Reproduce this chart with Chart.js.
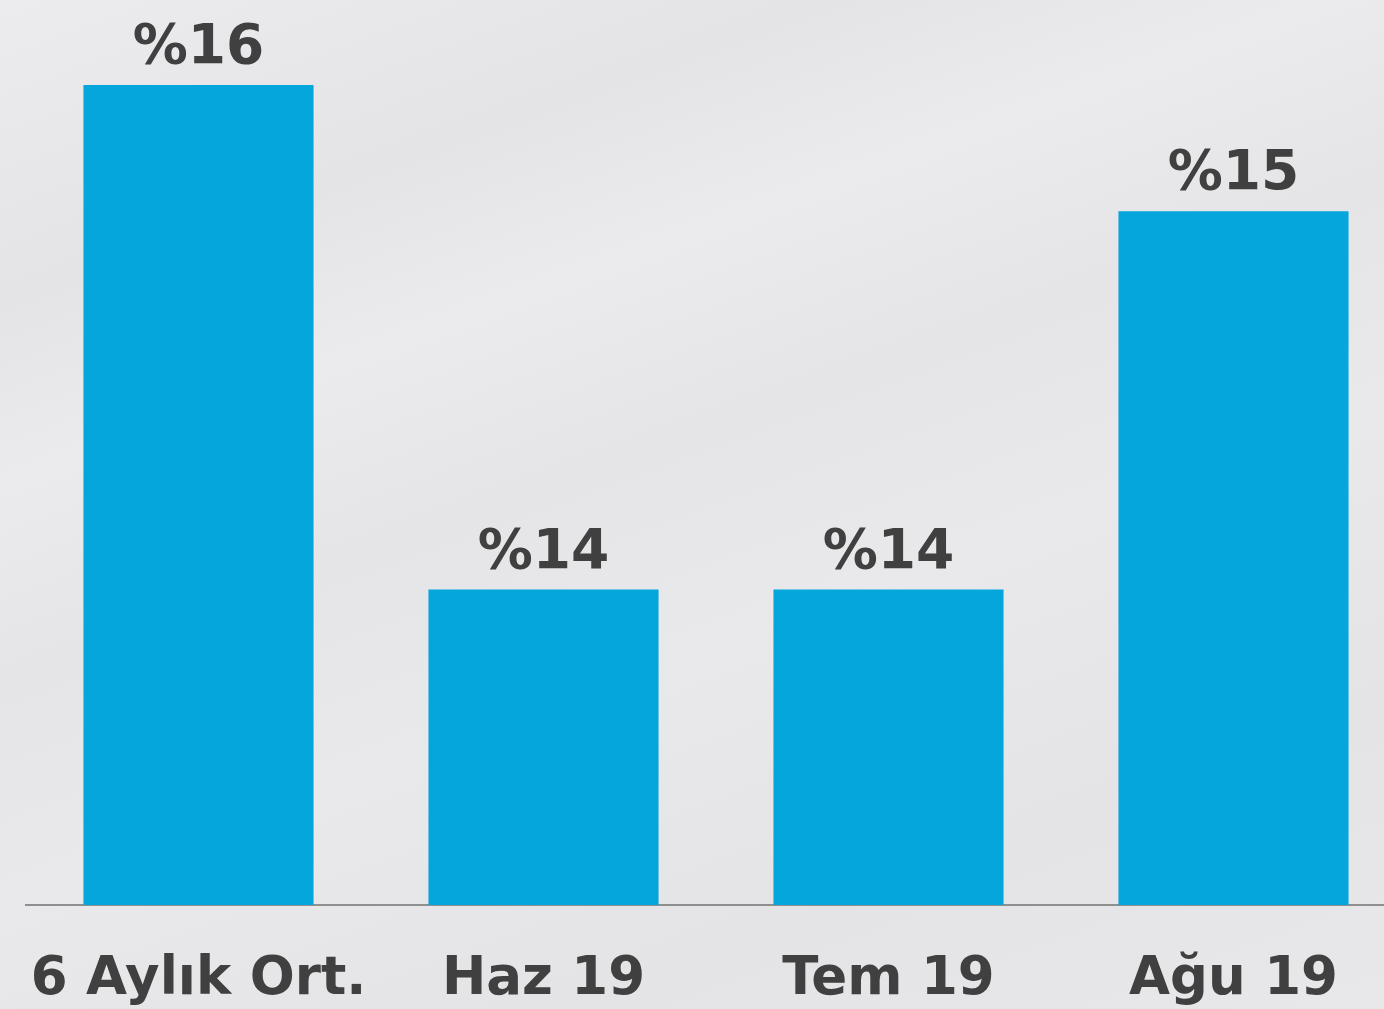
<!DOCTYPE html>
<html lang="tr">
<head>
<meta charset="utf-8">
<title>Oran</title>
<script src="https://cdn.jsdelivr.net/npm/chart.js@4"></script>
<style>
    html, body { margin: 0; padding: 0; overflow: hidden; }
    body {
        width: 1384px; height: 1009px;
        background: linear-gradient(160deg, #ececee 0%, #e4e4e7 20%, #ebebed 32%, #e5e5e8 45%, #e9e9eb 60%, #e4e4e7 80%, #e8e8ea 100%);
    }
    #wrap { position: absolute; left: 0; top: 0; width: 1410px; height: 1009px; }
</style>
</head>
<body>
<div id="wrap"><canvas id="chart"></canvas></div>
<script>
// --- ДАННЫЕ ---
const categories = ['6 Aylık Ort.', 'Haz 19', 'Tem 19', 'Ağu 19'];
const values = [15.6, 13.6, 13.6, 15.1];
const axisMin = 12.35;
const axisMax = 15.6;

const FONT = '"DejaVu Sans", Verdana, sans-serif';
const TEXT = '#404040';

// подписи над столбцами
const valueLabels = {
    id: 'valueLabels',
    afterDatasetsDraw(chart) {
        const ctx = chart.ctx;
        const meta = chart.getDatasetMeta(0);
        ctx.save();
        ctx.font = 'bold 55px ' + FONT;
        ctx.fillStyle = TEXT;
        ctx.textAlign = 'center';
        ctx.textBaseline = 'alphabetic';
        meta.data.forEach((bar, i) => {
            ctx.fillText('%' + Math.round(values[i]), bar.x, bar.y - 22);
        });
        ctx.restore();
    }
};

new Chart(document.getElementById('chart'), {
    type: 'bar',
    data: {
        labels: categories,
        datasets: [{
            data: values,
            backgroundColor: '#05a6dc',
            borderWidth: 0,
            barPercentage: 0.667,
            categoryPercentage: 1
        }]
    },
    options: {
        responsive: true,
        maintainAspectRatio: false,
        animation: false,
        layout: { padding: { left: 26, right: 4, top: 85, bottom: 0 } },
        plugins: { legend: { display: false }, tooltip: { enabled: false } },
        scales: {
            y: { display: false, min: axisMin, max: axisMax },
            x: {
                grid: { display: false, drawTicks: false },
                border: { display: true, color: '#8f8f8f', width: 2 },
                ticks: { color: TEXT, font: { family: FONT, size: 53, weight: 'bold' }, padding: 43, maxRotation: 0, autoSkip: false },
                afterFit(scale) {
                    scale.height = 104;
                    scale.paddingLeft = 0;
                    scale.paddingRight = 0;
                }
            }
        }
    },
    plugins: [valueLabels]
});
</script>
</body>
</html>
